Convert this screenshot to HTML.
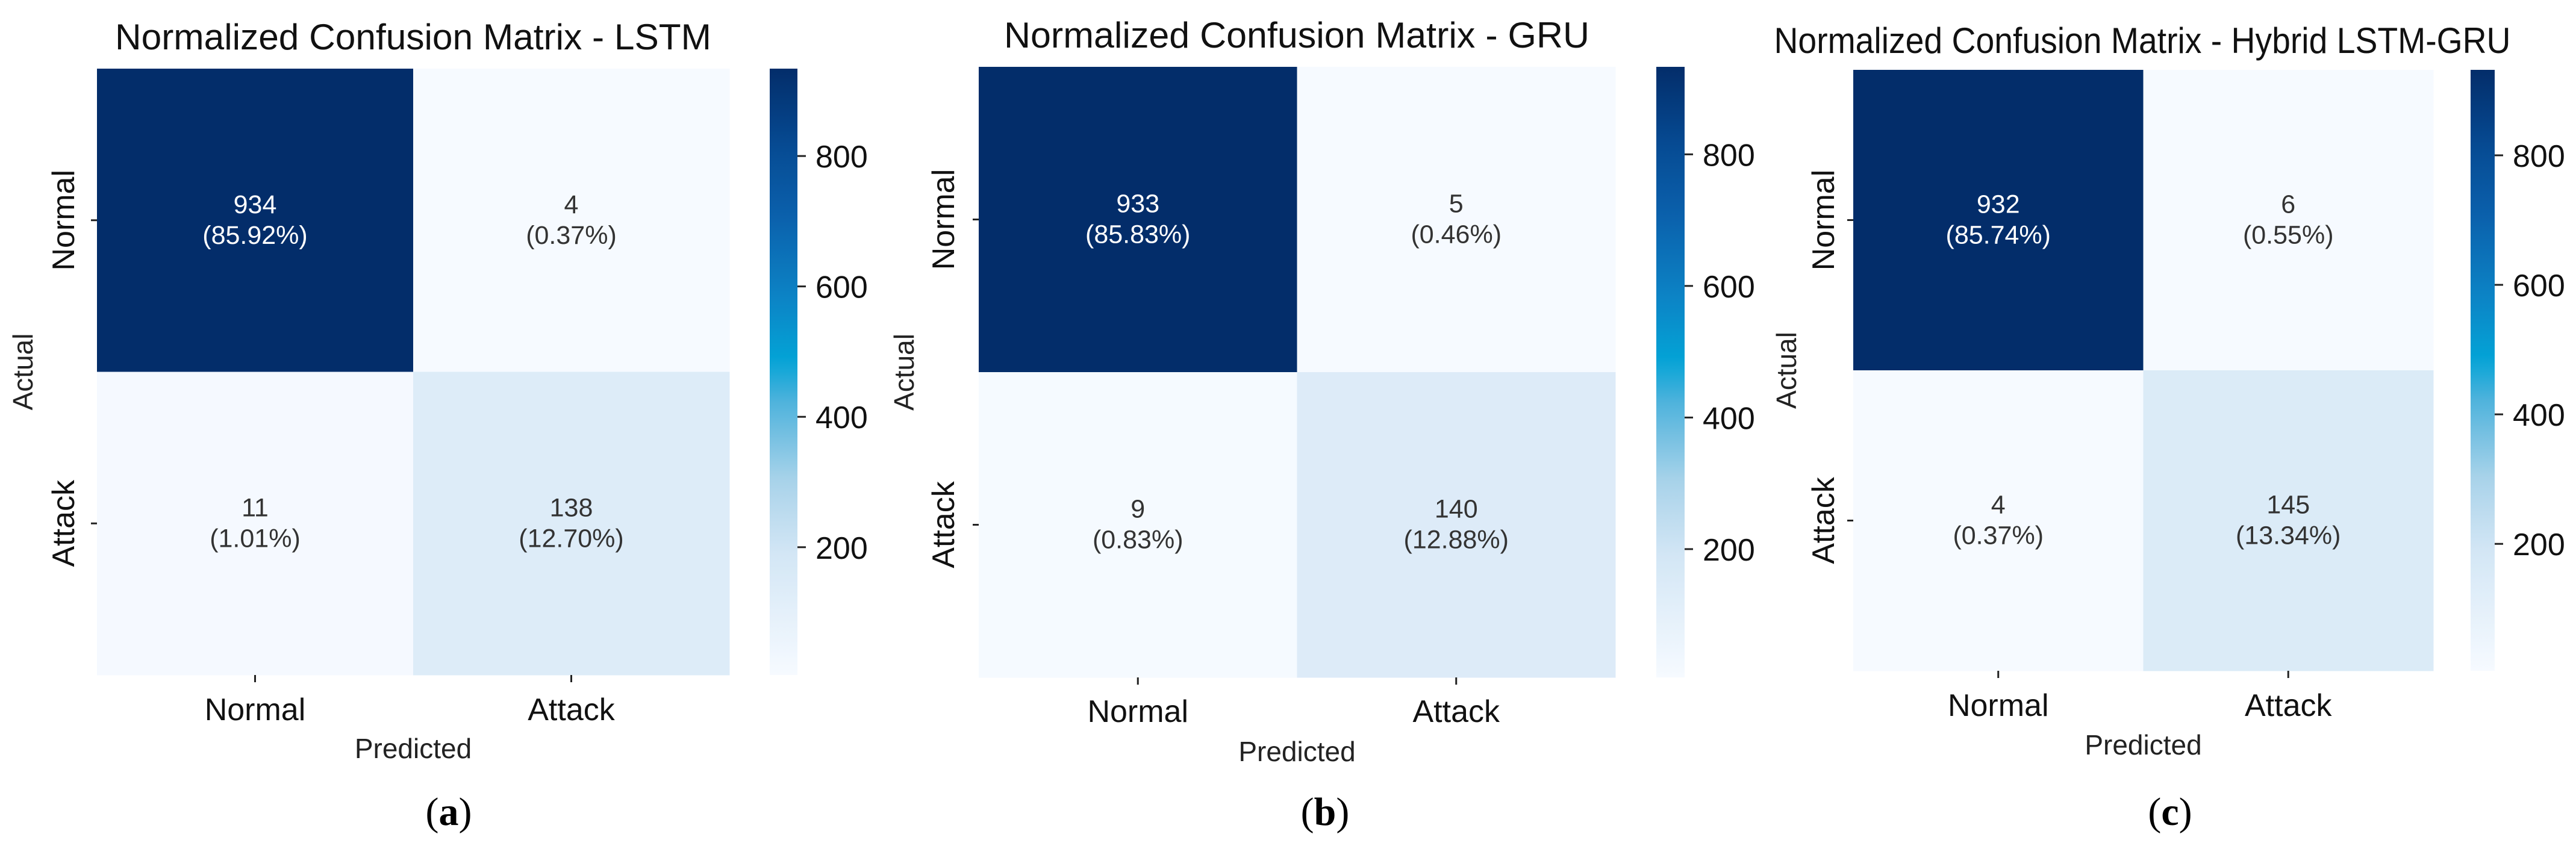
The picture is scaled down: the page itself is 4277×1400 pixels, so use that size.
<!DOCTYPE html>
<html><head><meta charset="utf-8">
<style>
html,body{margin:0;padding:0;background:#fff;}
svg{display:block;}
text{font-family:"Liberation Sans","DejaVu Sans",sans-serif;}
text.cap{font-family:"Liberation Serif","DejaVu Serif",serif;}
</style></head>
<body>
<svg id="fig" width="4277" height="1400" viewBox="0 0 4277 1400" xmlns="http://www.w3.org/2000/svg"></svg>
<script>
// ---- data ----
const classLabels = ["Normal", "Attack"];
const modelTitles = ["Normalized Confusion Matrix - LSTM", "Normalized Confusion Matrix - GRU", "Normalized Confusion Matrix - Hybrid LSTM-GRU"];
const panelLetters = ["a", "b", "c"];
const lstmCounts = [934, 4, 11, 138];
const lstmPercents = ["85.92%", "0.37%", "1.01%", "12.70%"];
const gruCounts = [933, 5, 9, 140];
const gruPercents = ["85.83%", "0.46%", "0.83%", "12.88%"];
const hybridCounts = [932, 6, 4, 145];
const hybridPercents = ["85.74%", "0.55%", "0.37%", "13.34%"];
const colorbarTicks = [200, 400, 600, 800];

const allCounts = [lstmCounts, gruCounts, hybridCounts];
const allPercents = [lstmPercents, gruPercents, hybridPercents];

// layout (not data)
const layouts = [
  {x0:161, x1:1211, y0:114, y1:1121, cb0:1278, cb1:1324, titleX:686, titleY:61, titleW:990, ylabX:105, actX:38, xtY:1177, predY:1243, capX:745},
  {x0:1625, x1:2682, y0:111, y1:1125, cb0:2750, cb1:2797, titleX:2153, titleY:58, titleW:972, ylabX:1566, actX:1501, xtY:1180, predY:1248, capX:2200},
  {x0:3077, x1:4040, y0:116, y1:1114, cb0:4102, cb1:4142, titleX:3557, titleY:67, titleW:1223, ylabX:3027, actX:2966, xtY:1170, predY:1237, capX:3603}
];

const stops = [[0,'#f6faff'],[0.2,'#d3e6f5'],[0.32,'#a9d3ea'],[0.45,'#4fb3dc'],[0.52,'#03a3d6'],[0.62,'#0c84c6'],[0.75,'#0b62ad'],[0.87,'#064b94'],[1,'#032d6a']];
function hex(h){return [parseInt(h.substr(1,2),16),parseInt(h.substr(3,2),16),parseInt(h.substr(5,2),16)];}
function cmap(t){
  t=Math.max(0,Math.min(1,t));
  for(let i=1;i<stops.length;i++){
    if(t<=stops[i][0]){
      const a=stops[i-1],b=stops[i];const f=(t-a[0])/(b[0]-a[0]);
      const ca=hex(a[1]),cb=hex(b[1]);
      return 'rgb('+ca.map((v,k)=>Math.round(v+(cb[k]-v)*f)).join(',')+')';
    }
  }
  return stops[stops.length-1][1];
}
const NS="http://www.w3.org/2000/svg";
const svg=document.getElementById('fig');
function el(tag,attrs,parent){const e=document.createElementNS(NS,tag);for(const k in attrs)e.setAttribute(k,attrs[k]);(parent||svg).appendChild(e);return e;}

const defs=el('defs',{});
const grad=el('linearGradient',{id:'cbgrad',x1:0,y1:1,x2:0,y2:0},defs);
for(let i=0;i<=40;i++){el('stop',{offset:(i/40),'stop-color':cmap(i/40)},grad);}

layouts.forEach((L,p)=>{
  const counts=allCounts[p], pcts=allPercents[p];
  const vmin=Math.min(...counts), vmax=Math.max(...counts);
  const g=el('g',{});
  
  
  const n=classLabels.length;
  const cw=(L.x1-L.x0)/n, ch=(L.y1-L.y0)/n;
  const xScale=j=>L.x0+cw*j, yScale=i=>L.y0+ch*i;
  const t=el('text',{x:L.titleX,y:L.titleY+21,'font-size':60,'text-anchor':'middle',fill:'#111',textLength:L.titleW,lengthAdjust:'spacingAndGlyphs'},g);
  t.textContent=modelTitles[p];
  
  
  for(let i=0;i<n;i++)for(let j=0;j<n;j++){
    const v=counts[i*n+j];
    const r=el('rect',{x:xScale(j),y:yScale(i),width:cw+0.5,height:ch+0.5,fill:cmap((v-vmin)/(vmax-vmin))},g);
    
    
    const dark=(v-vmin)/(vmax-vmin)>0.5;
    const tx=el('text',{x:xScale(j)+cw/2,y:yScale(i)+ch/2-12,'font-size':43,'text-anchor':'middle',fill:dark?'#fff':'#333'},g);
    tx.textContent=String(v);
    
    
    const tp=el('text',{x:xScale(j)+cw/2,y:yScale(i)+ch/2+39,'font-size':43,'text-anchor':'middle',fill:dark?'#fff':'#333'},g);
    tp.textContent='('+pcts[i*n+j]+')';
    
    
  }
  for(let i=0;i<n;i++){
    const cy=yScale(i)+ch/2;
    el('line',{x1:L.x0-10,x2:L.x0,y1:cy,y2:cy,stroke:'#222','stroke-width':3},g);
    const yl=el('text',{x:L.ylabX,y:cy,'font-size':52,'text-anchor':'middle',fill:'#111',transform:'rotate(-90 '+(L.ylabX)+' '+cy+')',dy:18},g);
    yl.textContent=classLabels[i];
    
    
  }
  for(let j=0;j<n;j++){
    const cx=xScale(j)+cw/2;
    el('line',{x1:cx,x2:cx,y1:L.y1,y2:L.y1+12,stroke:'#222','stroke-width':3},g);
    const xl=el('text',{x:cx,y:L.xtY+19,'font-size':52,'text-anchor':'middle',fill:'#111'},g);
    xl.textContent=classLabels[j];
    
    
  }
  const mid=(L.y0+L.y1)/2;
  const at=el('text',{x:L.actX,y:mid,'font-size':46,'text-anchor':'middle',fill:'#222',dy:16,transform:'rotate(-90 '+L.actX+' '+mid+')'},g);
  at.textContent='Actual';
  
  
  const pr=el('text',{x:(L.x0+L.x1)/2,y:L.predY+16,'font-size':46,'text-anchor':'middle',fill:'#222'},g);
  pr.textContent='Predicted';
  
  
  const cb=el('rect',{x:L.cb0,y:L.y0,width:L.cb1-L.cb0,height:L.y1-L.y0,fill:'url(#cbgrad)'},g);
  
  
  const cbScale=v=>L.y1-(v-vmin)/(vmax-vmin)*(L.y1-L.y0);
  colorbarTicks.forEach(v=>{
    const y=cbScale(v);
    el('line',{x1:L.cb1,x2:L.cb1+14,y1:y,y2:y,stroke:'#222','stroke-width':3},g);
    const ct=el('text',{x:L.cb1+30,y:y+19,'font-size':52,fill:'#111'},g);
    ct.textContent=String(v);
    
    
  });
  const cap=el('text',{x:L.capX,y:1348+22,'font-size':66,'text-anchor':'middle',fill:'#000','class':'cap'},g);
  cap.innerHTML='(<tspan font-weight="bold">'+panelLetters[p]+'</tspan>)';
  
  
});
</script>
</body></html>
